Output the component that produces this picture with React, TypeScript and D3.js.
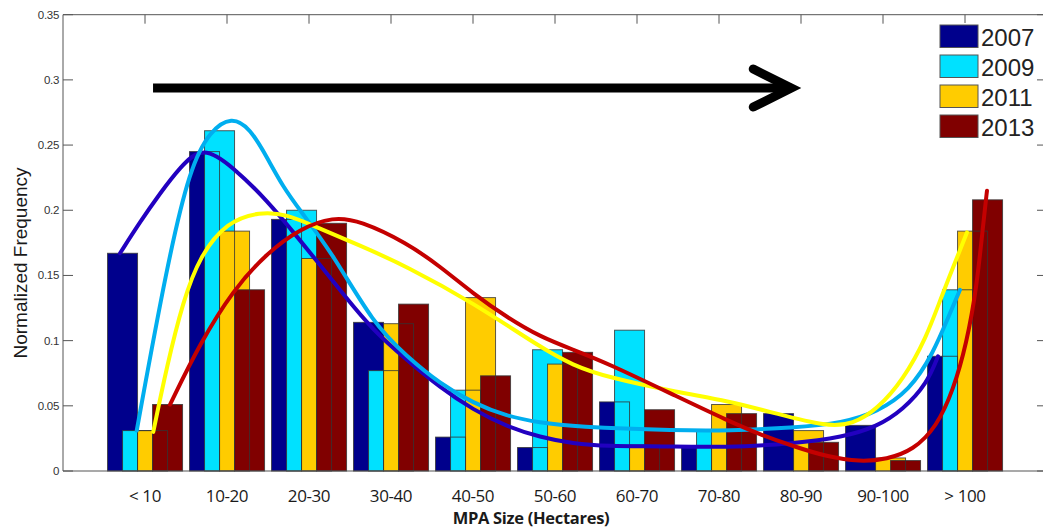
import React from "react";
import * as d3 from "d3";

const categories = ["< 10", "10-20", "20-30", "30-40", "40-50", "50-60", "60-70", "70-80", "80-90", "90-100", "> 100"];
const years = ["2007", "2009", "2011", "2013"];
const v2007 = [0.167, 0.245, 0.193, 0.114, 0.026, 0.018, 0.053, 0.019, 0.044, 0.035, 0.088];
const v2009 = [0.031, 0.261, 0.200, 0.077, 0.062, 0.093, 0.108, 0.031, 0, 0, 0.139];
const v2011 = [0.031, 0.184, 0.163, 0.113, 0.133, 0.082, 0.020, 0.051, 0.031, 0.010, 0.184];
const v2013 = [0.051, 0.139, 0.190, 0.128, 0.073, 0.091, 0.047, 0.044, 0.022, 0.008, 0.208];
const yTicks = [0, 0.05, 0.1, 0.15, 0.2, 0.25, 0.3, 0.35];
const yTickLabels = ["0", "0.05", "0.1", "0.15", "0.2", "0.25", "0.3", "0.35"];

// fitted curves, [x in category units, y frequency]
const fit2007: [number, number][] = [
  [0.695, 0.167], [0.939, 0.191], [1.183, 0.213], [1.427, 0.233], [1.707, 0.250], [2.073, 0.233],
  [2.484, 0.208], [2.890, 0.177], [3.134, 0.158], [3.439, 0.134], [3.780, 0.108], [4.195, 0.085],
  [4.598, 0.064], [5.000, 0.047], [5.415, 0.034], [5.817, 0.026], [6.220, 0.021], [6.634, 0.019],
  [7.280, 0.019], [8.098, 0.018], [8.902, 0.021], [9.512, 0.026], [9.927, 0.034], [10.244, 0.047],
  [10.537, 0.067], [10.671, 0.088],
];
const fit2009: [number, number][] = [
  [0.899, 0.031], [1.265, 0.157], [1.549, 0.233], [1.793, 0.261], [2.057, 0.272], [2.280, 0.263],
  [2.484, 0.241], [2.683, 0.218], [2.890, 0.200], [3.296, 0.166], [3.784, 0.113], [4.191, 0.088],
  [4.598, 0.067], [5.004, 0.052], [5.411, 0.042], [5.817, 0.037], [6.223, 0.034], [7.524, 0.031],
  [8.094, 0.031], [8.906, 0.033], [9.516, 0.037], [9.923, 0.045], [10.329, 0.062], [10.610, 0.090],
  [10.817, 0.121], [10.939, 0.139],
];
const fit2011: [number, number][] = [
  [1.101, 0.030], [1.265, 0.080], [1.467, 0.131], [1.671, 0.165], [1.996, 0.191], [2.402, 0.199],
  [2.728, 0.197], [3.094, 0.187], [3.622, 0.173], [4.191, 0.157], [5.004, 0.129], [5.817, 0.095],
  [6.220, 0.081], [6.630, 0.072], [7.524, 0.060], [8.094, 0.054], [8.704, 0.044], [9.313, 0.034],
  [9.638, 0.036], [9.923, 0.047], [10.248, 0.070], [10.533, 0.103], [10.695, 0.131], [11.024, 0.183],
];
const fit2013: [number, number][] = [
  [1.305, 0.051], [1.671, 0.098], [2.077, 0.139], [2.484, 0.167], [2.890, 0.186], [3.296, 0.195],
  [3.622, 0.192], [4.191, 0.175], [4.598, 0.157], [5.004, 0.136], [5.411, 0.118], [5.817, 0.103],
  [6.223, 0.093], [6.630, 0.083], [7.524, 0.056], [8.094, 0.039], [8.500, 0.028], [8.906, 0.019],
  [9.313, 0.011], [9.720, 0.007], [10.045, 0.009], [10.370, 0.016], [10.655, 0.034], [10.857, 0.062],
  [11.020, 0.098], [11.143, 0.141], [11.223, 0.190], [11.268, 0.215],
];

const barFill = ["#00008C", "#00E1FF", "#FFCC00", "#800000"];
const lineColor = ["#2200C0", "#00AEEF", "#FFFF00", "#C40000"];

export default function App() {
  const W = 1043, H = 529;
  const x = d3.scaleLinear().domain([0, 12]).range([63, 1047]);
  const y = d3.scaleLinear().domain([0, 0.35]).range([471, 14.7]);
  const series = [v2007, v2009, v2011, v2013];
  const fits = [fit2007, fit2009, fit2011, fit2013];
  const barW = 0.366;
  const step = 0.183;
  const bars = series.flatMap((vals, j) =>
    vals.map((v, i) => {
      const x0 = x(i + 1 - 0.457 + step * j);
      const x1 = x(i + 1 - 0.457 + step * j + barW);
      return { j, i, x0, w: x1 - x0, y0: y(v), h: y(0) - y(v) };
    })
  );
  const line = d3
    .line<[number, number]>()
    .x((d) => x(d[0]))
    .y((d) => y(d[1]))
    .curve(d3.curveBasis);
  const axisColor = "#555";
  const left = x(0), right = x(12), top = y(0.35), bottom = y(0);

  // arrow in data units
  const ax0 = x(1.098), ax1 = x(8.93), ay = y(0.2937);

  return (
    <svg width={W} height={H} style={{ position: "absolute", left: 0, top: 0, background: "#fff" }}>
      <rect x={0} y={0} width={W} height={H} fill="#fff" />
      {categories.map((c, i) => (
        <line key={"bt" + i} x1={x(i + 1)} x2={x(i + 1)} y1={bottom} y2={bottom - 9} stroke={axisColor} strokeWidth={1} />
      ))}
      {bars.map((b, k) => (
        <rect key={"bf" + k} x={b.x0} y={b.y0} width={b.w} height={b.h} fill={barFill[b.j]} />
      ))}
      {bars.map((b, k) =>
        b.h > 0 ? (
          <rect key={"be" + k} x={b.x0} y={b.y0} width={b.w} height={b.h} fill="none" stroke="#333" strokeOpacity={0.8} strokeWidth={1} />
        ) : null
      )}
      {fits.map((f, j) => (
        <path key={"fc" + j} d={line(f) || ""} fill="none" stroke={lineColor[j]} strokeWidth={4} strokeLinecap="round" />
      ))}
      <line x1={left} x2={left} y1={top} y2={bottom} stroke={axisColor} strokeWidth={1} />
      <line x1={left} x2={right} y1={bottom} y2={bottom} stroke={axisColor} strokeWidth={1.2} />
      <line x1={left} x2={right} y1={top} y2={top} stroke={axisColor} strokeWidth={1} />
      <line x1={right} x2={right} y1={top} y2={bottom} stroke={axisColor} strokeWidth={1} />
      {yTicks.map((t, k) => (
        <g key={"yt" + k}>
          <line x1={left} x2={left + 10} y1={y(t)} y2={y(t)} stroke={axisColor} strokeWidth={1} />
          <line x1={right} x2={right - 10} y1={y(t)} y2={y(t)} stroke={axisColor} strokeWidth={1} />
          <text x={59} y={y(t) + 4} textAnchor="end" fontFamily="Liberation Sans, Arial, sans-serif" fontSize={11.5} fill="#333" letterSpacing={-0.3}>
            {yTickLabels[k]}
          </text>
        </g>
      ))}
      {categories.map((c, i) => (
        <line key={"tt" + i} x1={x(i + 1)} x2={x(i + 1)} y1={top} y2={top + 9} stroke={axisColor} strokeWidth={1} />
      ))}
      {categories.map((c, i) => (
        <text key={"xl" + i} x={x(i + 1)} y={501.5} textAnchor="middle" fontFamily="Open Sans, sans-serif" fontSize={17} fill="#1a1a1a" letterSpacing={-0.4}>
          {c}
        </text>
      ))}
      <text x={531} y={524} textAnchor="middle" fontFamily="Open Sans, sans-serif" fontWeight="bold" fontSize={16.5} fill="#1a1a1a" letterSpacing={-0.3}>
        MPA Size (Hectares)
      </text>
      <text transform="translate(27,263) rotate(-90)" textAnchor="middle" fontFamily="Liberation Sans, Arial, sans-serif" fontSize={19} fill="#1a1a1a">
        Normalized Frequency
      </text>
      <line x1={ax0} x2={ax1 - 4} y1={ay} y2={ay} stroke="#000" strokeWidth={9} />
      <polyline points={`${ax1 - 42},${ay - 19} ${ax1 - 4},${ay} ${ax1 - 42},${ay + 19}`} fill="none" stroke="#000" strokeWidth={9} strokeLinecap="round" strokeLinejoin="miter" />
      <rect x={935} y={23} width={101} height={120} fill="#fff" />
      {years.map((yr, j) => (
        <g key={"lg" + j}>
          <rect x={940} y={25 + 30 * j} width={38} height={22.5} fill={barFill[j]} stroke="#555" strokeWidth={1} />
          <text x={981} y={46 + 30 * j} fontFamily="Liberation Sans, Arial, sans-serif" fontSize={24} fill="#222">
            {yr}
          </text>
        </g>
      ))}
    </svg>
  );
}
